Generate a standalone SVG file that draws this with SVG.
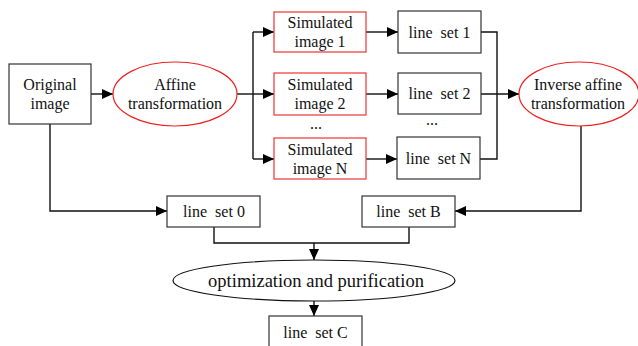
<svg xmlns="http://www.w3.org/2000/svg" width="638" height="346" viewBox="0 0 638 346">
<style>
text{font-family:"Liberation Serif","Times New Roman",serif;font-size:16px;fill:#111;text-anchor:middle;white-space:pre}
.box{fill:#fff;stroke:#333;stroke-width:1.2}
.rbox{fill:#fff;stroke:#ee3333;stroke-width:1.2}
.rell{fill:#fff;stroke:#ee2222;stroke-width:1.2}
.bell{fill:#fff;stroke:#111;stroke-width:1.2}
.c{fill:none;stroke:#111;stroke-width:1.4}
.big{font-size:18.5px}
</style>
<defs>
<marker id="ah" viewBox="0 0 11 10" refX="11" refY="5" markerWidth="11" markerHeight="10" markerUnits="userSpaceOnUse" orient="auto">
<path d="M0,0 L11,5 L0,10 Z" fill="#000"/>
</marker>
</defs>
<g id="connectors">
<path class="c" d="M91,94 H113" marker-end="url(#ah)"/>
<path class="c" d="M237,94 H253"/>
<path class="c" d="M253,32 V159"/>
<path class="c" d="M253,32 H274" marker-end="url(#ah)"/>
<path class="c" d="M253,94 H274" marker-end="url(#ah)"/>
<path class="c" d="M253,159 H274" marker-end="url(#ah)"/>
<path class="c" d="M366,32 H398" marker-end="url(#ah)"/>
<path class="c" d="M366,94 H398" marker-end="url(#ah)"/>
<path class="c" d="M366,159 H397" marker-end="url(#ah)"/>
<path class="c" d="M481,32 H497 V159 H480"/>
<path class="c" d="M481,94 H519" marker-end="url(#ah)"/>
<path class="c" d="M50,124 V211 H167" marker-end="url(#ah)"/>
<path class="c" d="M581,126 V211 H455" marker-end="url(#ah)"/>
<path class="c" d="M214,227 V243 H409 V227"/>
<path class="c" d="M314,243 V260" marker-end="url(#ah)"/>
<path class="c" d="M314,301 V316" marker-end="url(#ah)"/>
</g>
<g id="original">
<rect class="box" x="9" y="64" width="82" height="60"/>
<text x="50" y="90">Original</text>
<text x="50" y="109">image</text>
</g>
<g id="affine">
<ellipse class="rell" cx="175" cy="94" rx="62" ry="32"/>
<text x="175" y="90">Affine</text>
<text x="175" y="109">transformation</text>
</g>
<g id="sim1">
<rect class="rbox" x="274" y="12" width="92" height="40"/>
<text x="320" y="28">Simulated</text>
<text x="320" y="47">image 1</text>
</g>
<g id="sim2">
<rect class="rbox" x="274" y="73" width="92" height="42"/>
<text x="320" y="90">Simulated</text>
<text x="320" y="109">image 2</text>
</g>
<text x="316" y="129">...</text>
<g id="simN">
<rect class="rbox" x="274" y="138" width="92" height="41"/>
<text x="320" y="155">Simulated</text>
<text x="320" y="174">image N</text>
</g>
<g id="ls1">
<rect class="box" x="398" y="11" width="83" height="42"/>
<text x="439.5" y="38">line  set 1</text>
</g>
<g id="ls2">
<rect class="box" x="398" y="73" width="83" height="41"/>
<text x="439.5" y="99">line  set 2</text>
</g>
<text x="432" y="125">...</text>
<g id="lsN">
<rect class="box" x="397" y="137" width="83" height="42"/>
<text x="438.5" y="164">line  set N</text>
</g>
<g id="inverse">
<ellipse class="rell" cx="579" cy="94" rx="60" ry="32"/>
<text x="578" y="90">Inverse affine</text>
<text x="578" y="109">transformation</text>
</g>
<g id="ls0">
<rect class="box" x="167" y="196" width="93" height="31"/>
<text x="214" y="217">line  set 0</text>
</g>
<g id="lsB">
<rect class="box" x="362" y="196" width="93" height="31"/>
<text x="408.5" y="217">line  set B</text>
</g>
<g id="opt">
<ellipse class="bell" cx="314" cy="280.5" rx="141" ry="20.5"/>
<text class="big" x="316" y="287">optimization and purification</text>
</g>
<g id="lsC">
<rect class="box" x="269" y="316" width="93" height="34"/>
<text x="315.5" y="338">line  set C</text>
</g>
</svg>
